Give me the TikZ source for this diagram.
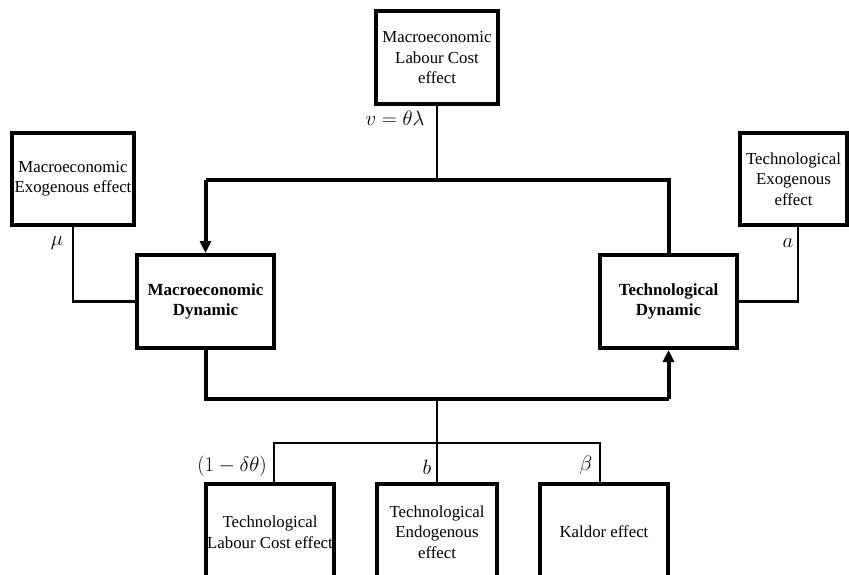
\documentclass[tikz,border=0pt]{standalone}
\usepackage{fontspec}
\setmainfont{Liberation Serif}
\usetikzlibrary{arrows.meta}
\begin{document}
\begin{tikzpicture}[x=1pt,y=-1pt,
  box/.style={draw, line width=4pt, inner sep=0pt, align=center,
    font=\fontsize{16.8}{20.5}\selectfont},
  bbox/.style={box, font=\fontsize{17}{20.5}\selectfont\bfseries},
  thinl/.style={line width=2.2pt},
  thickl/.style={line width=4pt},
  tip/.style={-{Triangle[length=12pt,width=11pt]}},
  lab/.style={inner sep=0pt, font=\fontsize{22.5}{24}\selectfont}]
\useasboundingbox (0,0) rectangle (849,575);
\clip (0,0) rectangle (849,575);
\node[box, minimum width=122pt, minimum height=93pt] (LC) at (437,58) {Macroeconomic\\Labour Cost\\effect};
\node[box, minimum width=122pt, minimum height=92pt] (ME) at (73,179) {Macroeconomic\\Exogenous effect};
\node[box, minimum width=107pt, minimum height=92pt] (TE) at (793.5,179) {Technological\\Exogenous\\effect};
\node[bbox, minimum width=137pt, minimum height=93pt] (MD) at (205.5,301.5) {Macroeconomic\\Dynamic};
\node[bbox, minimum width=137pt, minimum height=93pt] (TD) at (668.5,301.5) {Technological\\Dynamic};
\node[box, minimum width=128pt, minimum height=96pt] (B1) at (270,532) {Technological\\Labour Cost effect};
\node[box, minimum width=120pt, minimum height=96pt] (B2) at (437,532) {Technological\\Endogenous\\effect};
\node[box, minimum width=128pt, minimum height=96pt] (B3) at (604,532) {Kaldor effect};
\coordinate (hubT) at (437,180);
\coordinate (hubB) at (437,399);
\coordinate (hubC) at (437,443);
\coordinate (c1) at (274,443);
\coordinate (c3) at (600,443);
\coordinate (ra) at (798,301.5);
% top feedback
\draw[thinl] (LC.south) -- (LC.south |- hubT);
\draw[thickl] (TD.north) -- (TD.north |- hubT) -- (MD.north |- hubT);
\draw[thickl, tip] (MD.north |- hubT) -- (MD.north);
% bottom feedback
\draw[thickl] (MD.south) -- (MD.south |- hubB) -- (TD.south |- hubB);
\draw[thickl, tip] (TD.south |- hubB) -- (TD.south);
\draw[thinl] (hubB) -- (hubC);
\draw[thinl] (c1 |- B1.north) -- (c1) -- (c3) -- (c3 |- B3.north);
\draw[thinl] (hubC) -- (B2.north);
% exogenous
\draw[thinl] (ME.south) -- (ME.south |- MD.west) -- (MD.west);
\draw[thinl] (TE.south -| ra) -- (ra) -- (TD.east);
% labels
\node[lab] (lv) at (395,118) {$v=\theta\lambda$};
\node[lab] (lmu) at (57,243) {$\mu$};
\node[lab] (la) at (788,243) {$a$};
\node[lab] (ld) at (232,466) {$(1-\delta\theta)$};
\node[lab] (lb) at (427,467) {$b$};
\node[lab] (lbeta) at (586,465) {$\beta$};
\end{tikzpicture}
\end{document}
